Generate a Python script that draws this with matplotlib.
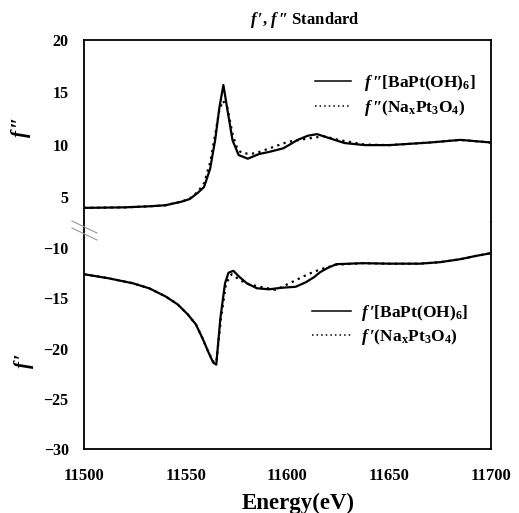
import matplotlib
matplotlib.use('Agg')
import matplotlib.pyplot as plt
from matplotlib.lines import Line2D

plt.rcParams['font.family'] = ['Liberation Serif', 'DejaVu Serif']
plt.rcParams['font.weight'] = 'bold'
plt.rcParams['mathtext.fontset'] = 'custom'
plt.rcParams['mathtext.rm'] = 'Liberation Serif:bold'
plt.rcParams['mathtext.it'] = 'Liberation Serif:italic:bold'
plt.rcParams['mathtext.bf'] = 'Liberation Serif:bold'

# ---------------- data ----------------
E_fpp_ba = [11500, 11520, 11532, 11540, 11548, 11552, 11556, 11559, 11562, 11564.5, 11566.5,
            11568.5, 11570.5, 11573, 11576, 11580.5, 11586, 11591, 11598, 11605, 11610,
            11614.5, 11620, 11628, 11638, 11650, 11670, 11685, 11700]
fpp_ba = [3.95, 4.0, 4.1, 4.2, 4.55, 4.8, 5.4, 5.95, 7.7, 10.5, 13.5,
          15.7, 13.3, 10.4, 9.0, 8.65, 9.1, 9.3, 9.65, 10.45, 10.85,
          11.0, 10.65, 10.15, 9.95, 9.95, 10.2, 10.45, 10.2]

E_fpp_na = [11500, 11520, 11532, 11540, 11548, 11552, 11556, 11559, 11562, 11564.5, 11566.5,
            11568.3, 11570.5, 11573, 11575.5, 11578, 11584, 11592, 11600, 11609, 11618,
            11625, 11638, 11650, 11670, 11685, 11700]
fpp_na = [3.95, 4.0, 4.1, 4.2, 4.55, 4.85, 5.5, 6.3, 8.3, 11.0, 13.3,
          14.2, 13.5, 11.0, 9.5, 9.15, 9.15, 9.7, 10.25, 10.55, 10.8,
          10.45, 10.0, 9.95, 10.2, 10.45, 10.2]

E_fp_ba = [11500, 11512, 11524, 11532, 11540, 11546, 11551, 11555, 11558.5, 11561, 11563.5,
           11565, 11567, 11569.3, 11571, 11573.4, 11576, 11580, 11585, 11591, 11597,
           11604, 11609, 11613, 11616, 11619.5, 11624, 11637, 11650, 11665, 11675,
           11685, 11692, 11700]
fp_ba = [-12.6, -13.0, -13.5, -14.0, -14.8, -15.6, -16.6, -17.6, -19.1, -20.3, -21.4,
         -21.6, -17.0, -13.5, -12.45, -12.26, -12.8, -13.5, -14.0, -14.1, -13.95,
         -13.85, -13.4, -12.9, -12.4, -12.0, -11.6, -11.5, -11.55, -11.55, -11.4,
         -11.1, -10.8, -10.5]

E_fp_na = [11500, 11512, 11524, 11532, 11540, 11546, 11551, 11555, 11558.5, 11561, 11563.5,
           11565, 11567.3, 11569.8, 11572.6, 11576.7, 11581, 11586.5, 11594, 11598,
           11603, 11608, 11613, 11618, 11624, 11637, 11650, 11665, 11675,
           11685, 11692, 11700]
fp_na = [-12.6, -13.0, -13.5, -14.0, -14.8, -15.6, -16.6, -17.6, -19.1, -20.3, -21.3,
         -21.4, -17.0, -13.5, -12.6, -13.2, -13.6, -13.85, -14.15, -13.8,
         -13.3, -12.8, -12.35, -12.0, -11.65, -11.5, -11.55, -11.55, -11.4,
         -11.1, -10.8, -10.5]

x_ticks = [11500, 11550, 11600, 11650, 11700]
y_ticks_fpp = [5, 10, 15, 20]
y_ticks_fp = [-30, -25, -20, -15, -10]

FPP = "$f\\,$\u2033"
FP = "$f\\,$\u2032"
labels_fpp = [FPP + "[BaPt(OH)$_6$]", FPP + "(Na$_\\mathrm{x}$Pt$_3$O$_4$)"]
labels_fp = [FP + "[BaPt(OH)$_6$]", FP + "(Na$_\\mathrm{x}$Pt$_3$O$_4$)"]

# ---------------- figure ----------------
W, H = 519, 513
fig = plt.figure(figsize=(W / 100, H / 100), dpi=100)
left, right, top, bottom, mid = 84, 491, 40, 449, 222

ax1 = fig.add_axes([left / W, 1 - mid / H, (right - left) / W, (mid - top) / H])
ax2 = fig.add_axes([left / W, 1 - bottom / H, (right - left) / W, (bottom - mid) / H])

lw = 1.6
ax1.plot(E_fpp_ba, fpp_ba, color='black', lw=lw, solid_joinstyle='round')
ax1.plot(E_fpp_na, fpp_na, color='black', lw=lw, ls=(0, (1, 2)))
ax2.plot(E_fp_ba, fp_ba, color='black', lw=lw, solid_joinstyle='round')
ax2.plot(E_fp_na, fp_na, color='black', lw=lw, ls=(0, (1, 2)))

for ax in (ax1, ax2):
    ax.set_xlim(11500, 11700)
    for s in ax.spines.values():
        s.set_linewidth(1.3)
    ax.tick_params(direction='in', length=0, width=1, labelsize=11.5, pad=11)

ax1.set_ylim(2.6, 20)
ax2.set_ylim(-30, -7.4)
ax1.spines['bottom'].set_visible(False)
ax2.spines['top'].set_visible(False)
ax1.tick_params(axis='x', bottom=False, labelbottom=False)
ax1.set_yticks(y_ticks_fpp)
ax2.set_yticks(y_ticks_fp)

ax2.set_xticks(x_ticks, labels=[str(t) for t in x_ticks])
ax2.tick_params(axis='x', pad=14, labelsize=12)

# legends
h_solid = Line2D([], [], color='black', lw=1.1)
h_dot = Line2D([], [], color='black', lw=1.1, ls=(0, (1, 2)))
leg1 = ax1.legend([h_solid, h_dot], labels_fpp, loc='center left',
                  bbox_to_anchor=(315 / W, 1 - 95.5 / H), bbox_transform=fig.transFigure,
                  frameon=False, borderpad=0, borderaxespad=0, handlelength=2.1,
                  handletextpad=0.7, labelspacing=0.25, fontsize=12.5)
leg2 = ax2.legend([h_solid, h_dot], labels_fp, loc='center left',
                  bbox_to_anchor=(312 / W, 1 - 325 / H), bbox_transform=fig.transFigure,
                  frameon=False, borderpad=0, borderaxespad=0, handlelength=2.25,
                  handletextpad=0.6, labelspacing=0.25, fontsize=12.5)

# texts
fig.text(305 / W, 1 - 20 / H, FP + ", " + FPP + " Standard", ha='center', va='center', fontsize=12)
fig.text(21 / W, 1 - 127 / H, FPP, rotation=90, ha='center', va='center', fontsize=15)
fig.text(24 / W, 1 - 361 / H, FP, rotation=90, ha='center', va='center', fontsize=15)
fig.text(298 / W, 1 - 503 / H, "Energy(eV)", ha='center', va='center', fontsize=16.5)

# axis break marks
for dy in (0, 7):
    fig.add_artist(Line2D([72 / W, 97 / W], [1 - (221 + dy) / H, 1 - (233 + dy) / H],
                          color='#999999', lw=0.8, transform=fig.transFigure))

fig.savefig('out.png', dpi=100)
